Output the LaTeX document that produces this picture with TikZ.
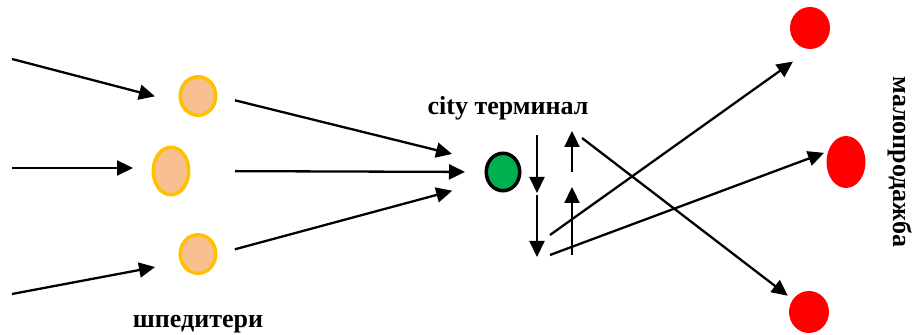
\documentclass[tikz,border=0pt]{standalone}
\usepackage{fontspec}
\setmainfont{Liberation Serif}
\usetikzlibrary{arrows.meta,shapes.geometric}
\definecolor{peach}{HTML}{F8C090}
\definecolor{amber}{HTML}{FFC000}
\definecolor{leaf}{HTML}{00B050}

\begin{document}
\begin{tikzpicture}[x=0.5pt,y=-0.5pt]
        \tikzset{flow/.style={-{Triangle[length=8pt, width=7.5pt]}, line width=1.15pt},
                 fwd/.style={ellipse, fill=peach, draw=amber, line width=1.75pt, inner sep=0pt},
                 shop/.style={ellipse, fill=red, inner sep=0pt},
                 lbl/.style={font=\bfseries\fontsize{13}{15}\selectfont}}
        \useasboundingbox (0,0) rectangle (917,335);

        % forwarders
        \node[fwd, minimum width=17.75pt, minimum height=19.25pt] (f1) at (198,96) {};
        \node[fwd, minimum width=17.75pt, minimum height=23.75pt] (f2) at (171,171) {};
        \node[fwd, minimum width=17.75pt, minimum height=19.25pt] (f3) at (198,254) {};
        \node[lbl, anchor=base] (fwdlbl) at (198,328) {шпедитери};

        % terminal
        \node[ellipse, fill=leaf, draw=black, line width=1.75pt, inner sep=0pt,
              minimum width=16.75pt, minimum height=18.75pt] (g) at (503,172) {};
        \node[lbl, anchor=base] (term) at (508,115) {city терминал};

        % retail
        \node[shop, minimum width=20pt, minimum height=21pt] (r1) at (810,28) {};
        \node[shop, minimum width=19.5pt, minimum height=26pt] (r2) at (846,162) {};
        \node[shop, minimum width=20pt, minimum height=21pt] (r3) at (809,312) {};
        \node[lbl, rotate=-90] (retail) at (900,162) {малопродажба};

        % incoming flows
        \coordinate (s1) at (12,59);
        \coordinate (s2) at (12,168);
        \coordinate (s3) at (12,294);
        \draw[flow, shorten >=12.7pt] (s1) -- (f1.200);
        \draw[flow, shorten >=9.25pt] (s2) -- (s2 -| f2.west);
        \draw[flow, shorten >=12.75pt] (s3) -- (f3.205);

        % forwarders to terminal
        \draw[flow, shorten <=9pt, shorten >=17.8pt] (f1.east) -- (g.150);
        \draw[flow, shorten <=22.25pt, shorten >=9.75pt] (f2.east) -- (g.west);
        \draw[flow, shorten <=9pt, shorten >=17.8pt] (f3.east) -- (g.210);

        % handling at the terminal
        \coordinate (dn1) at (537,135);
        \coordinate (dn1e) at (537,193);
        \coordinate (dn2) at (537,195);
        \coordinate (dn2e) at (537,257);
        \coordinate (up1) at (572,172);
        \coordinate (up1e) at (572,131);
        \coordinate (up2) at (572,255);
        \coordinate (up2e) at (572,187);
        \draw[flow] (dn1) -- (dn1e);
        \draw[flow] (dn2) -- (dn2e);
        \draw[flow] (up1) -- (up1e);
        \draw[flow] (up2) -- (up2e);

        % distribution to retail
        \coordinate (x1) at (582,138);
        \coordinate (x2) at (550,235);
        \coordinate (x3) at (550,255);
        \draw[flow, shorten >=3pt] (x1) -- (r3);
        \draw[flow, shorten >=10.5pt] (x2) -- (r1.south);
        \draw[flow, shorten >=2pt] (x3) -- (r2.150);
\end{tikzpicture}
\end{document}
